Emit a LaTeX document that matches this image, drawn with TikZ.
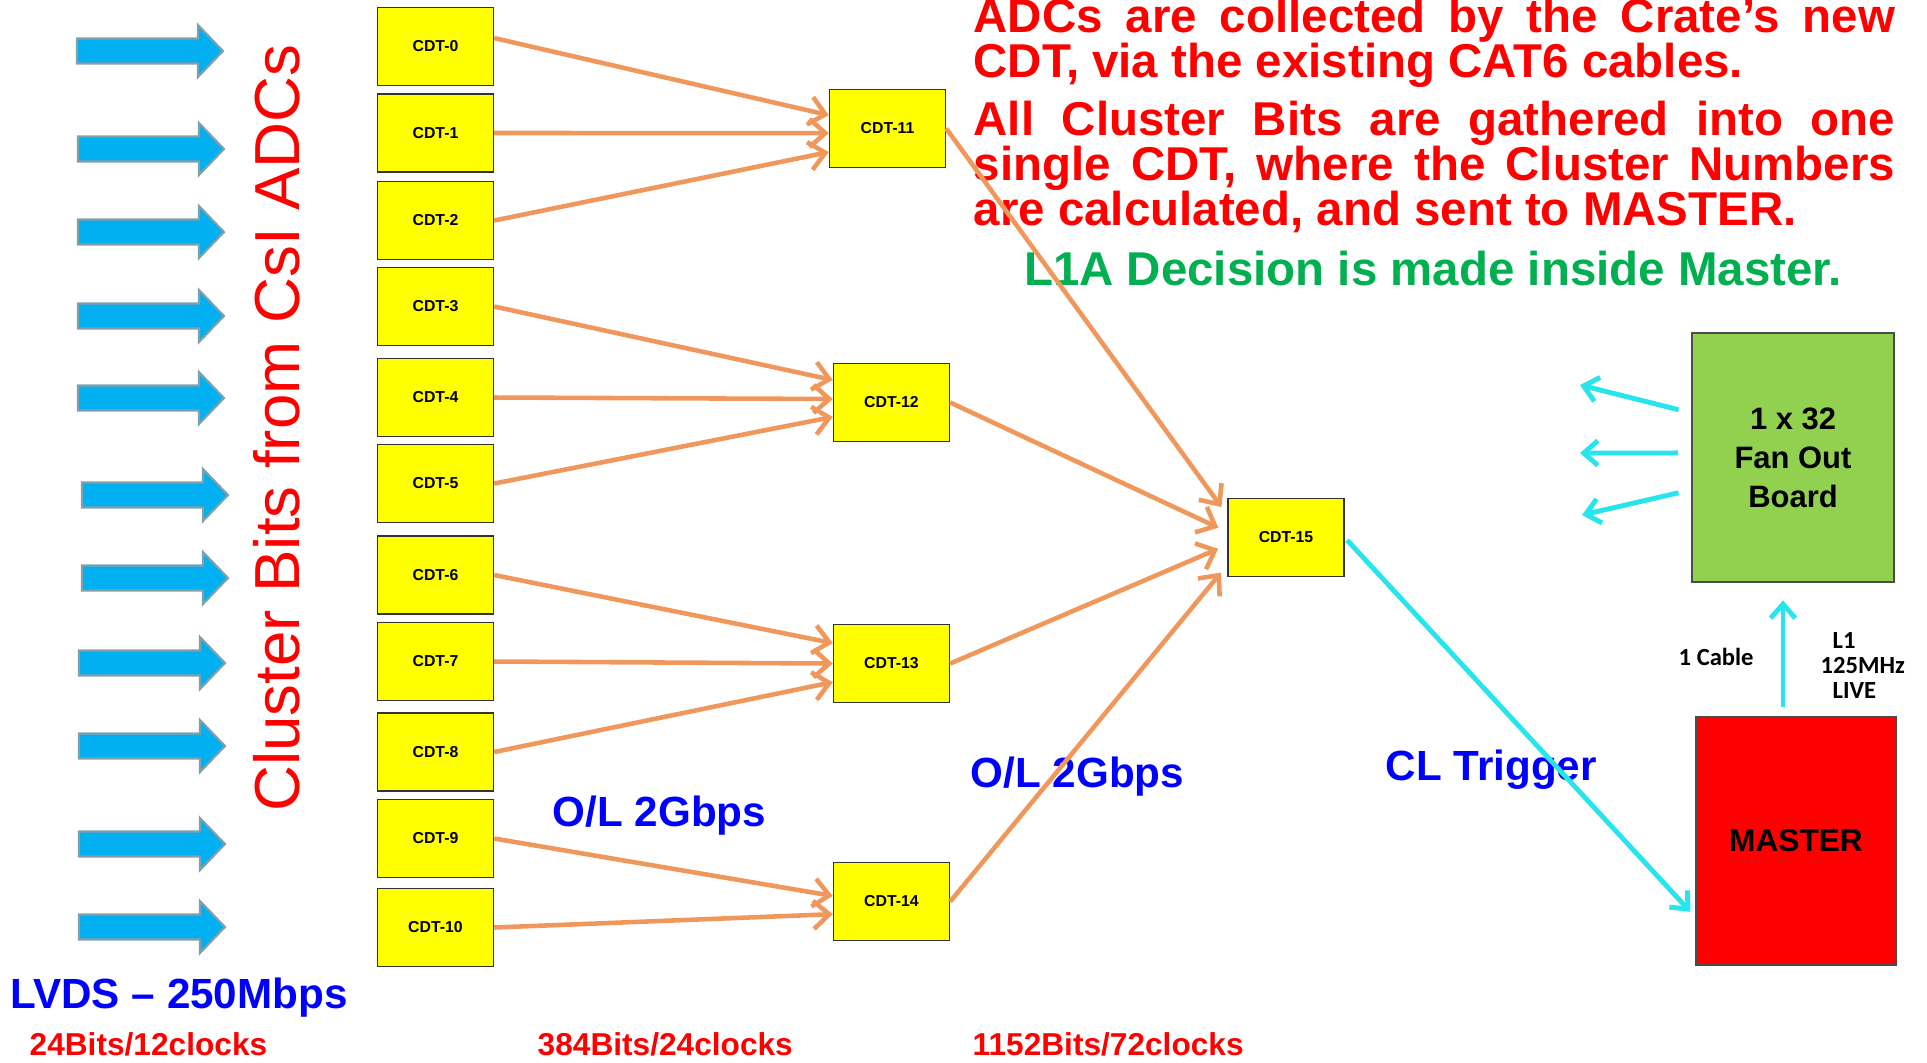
\documentclass[tikz,border=0pt]{standalone}
\usepackage{fontspec}
\setmainfont{Liberation Sans}
\newfontfamily\calibri{Carlito}
\usetikzlibrary{arrows.meta}

\definecolor{cdtyellow}{RGB}{255,255,0}
\definecolor{linkorange}{RGB}{240,152,92}
\definecolor{trigcyan}{RGB}{40,228,236}
\definecolor{fatblue}{RGB}{0,176,240}
\definecolor{fatedge}{RGB}{130,160,170}
\definecolor{fanoutgreen}{RGB}{146,208,80}
\definecolor{notegreen}{RGB}{0,176,80}
\definecolor{notered}{RGB}{255,0,0}
\definecolor{rateblue}{RGB}{0,0,255}

\begin{document}
\begin{tikzpicture}[x=0.01cm, y=-0.01cm,
    cdt/.style={draw=black!80, line width=0.4pt, fill=cdtyellow, minimum width=1.16cm, minimum height=0.78cm, inner sep=0pt, font=\fontsize{4.5}{5}\selectfont\bfseries},
    board/.style={draw=black!70, line width=0.4pt, inner sep=0pt, align=center},
    link/.style={draw=linkorange, line width=1.3pt, -{Straight Barb[length=4.5pt, width=8pt]}},
    sig/.style={draw=trigcyan, line width=1.4pt, -{Straight Barb[length=4pt, width=7pt]}},
    rate/.style={anchor=base west, inner sep=0pt, text=rateblue, font=\fontsize{12}{14}\selectfont\bfseries},
    clocks/.style={anchor=base west, inner sep=0pt, text=notered, font=\fontsize{9}{11}\selectfont\bfseries},
    fatarrow/.pic={\draw[fill=fatblue, draw=fatedge, line width=0.6pt] (0,-12.5) -- (121,-12.5) -- (121,-26) -- (146,0) -- (121,26) -- (121,12.5) -- (0,12.5) -- cycle;}]
    \useasboundingbox (0,0) rectangle (1927,1062);

    % LVDS inputs
    \pic at (77,51) {fatarrow};
    \pic at (78,149) {fatarrow};
    \pic at (78,232) {fatarrow};
    \pic at (78,316) {fatarrow};
    \pic at (78,398) {fatarrow};
    \pic at (82,495) {fatarrow};
    \pic at (82,578) {fatarrow};
    \pic at (79,663) {fatarrow};
    \pic at (79,746) {fatarrow};
    \pic at (79,844) {fatarrow};
    \pic at (79,927) {fatarrow};
    \node[rotate=90, inner sep=0pt, text=notered, font=\fontsize{18.1}{20}\selectfont] (source) at (277,428) {Cluster Bits from CsI ADCs};

    % crate CDTs
    \node[cdt] (cdt0) at (435.5,46.5) {CDT-0};
    \node[cdt] (cdt1) at (435.5,133) {CDT-1};
    \node[cdt] (cdt2) at (435.5,220.5) {CDT-2};
    \node[cdt] (cdt3) at (435.5,306.5) {CDT-3};
    \node[cdt] (cdt4) at (435.5,397.5) {CDT-4};
    \node[cdt] (cdt5) at (435.5,483.5) {CDT-5};
    \node[cdt] (cdt6) at (435.5,575) {CDT-6};
    \node[cdt] (cdt7) at (435.5,661.5) {CDT-7};
    \node[cdt] (cdt8) at (435.5,752) {CDT-8};
    \node[cdt] (cdt9) at (435.5,838.5) {CDT-9};
    \node[cdt] (cdt10) at (435.5,927.5) {CDT-10};

    \node[cdt] (cdt11) at (887.5,128.5) {CDT-11};
    \node[cdt] (cdt12) at (891.5,402.5) {CDT-12};
    \node[cdt] (cdt13) at (891.5,663.5) {CDT-13};
    \node[cdt] (cdt14) at (891.5,901.5) {CDT-14};
    \node[cdt] (cdt15) at (1286,537.5) {CDT-15};

    \node[board, fill=fanoutgreen, minimum width=2.02cm, minimum height=2.49cm, font=\fontsize{8.8}{11.1}\selectfont\bfseries] (fanout) at (1793,457.5) {1 x 32\\Fan Out\\Board};
    \node[board, fill=notered, minimum width=2cm, minimum height=2.48cm, font=\fontsize{9}{11}\selectfont\bfseries] (master) at (1796,841) {MASTER};

    % texts
    \node[anchor=north west, inner sep=0pt, text width=9.21cm, align=justify, text=notered, font=\fontsize{13.5}{12.8}\selectfont\bfseries] (notes) at (973,-3)
        {\lineskiplimit=-20pt\parindent=0pt ADCs are collected by the Crate’s new\linebreak CDT, via the existing CAT6 cables.\\[3.7pt]
        All Cluster Bits are gathered into one\linebreak single CDT, where the Cluster Numbers\linebreak are calculated, and sent to MASTER.};
    \node[anchor=base, inner sep=0pt, text=notegreen, font=\fontsize{13.5}{14}\selectfont\bfseries] (decision) at (1433,285) {L1A Decision is made inside Master.};

    \node[rate] (lvds) at (10,1008) {LVDS – 250Mbps};
    \node[rate] (ol1) at (552,826) {O/L 2Gbps};
    \node[rate] (ol2) at (970,787) {O/L 2Gbps};
    \node[rate] (cltrig) at (1385,780) {CL Trigger};
    \node[clocks] (clk1) at (29,1055) {24Bits/12clocks};
    \node[clocks] (clk2) at (537,1055) {384Bits/24clocks};
    \node[clocks] (clk3) at (972,1055) {1152Bits/72clocks};

    \node[anchor=base west, inner sep=0pt, font=\calibri\bfseries\fontsize{7}{7.1}\selectfont] (cable) at (1678,665) {1 Cable};
    \node[anchor=north west, inner sep=0pt, align=left, font=\calibri\bfseries\fontsize{7}{7.1}\selectfont] (l1live) at (1820,632) {\hspace{3.4pt}L1\\125MHz\\\hspace{3.4pt}LIVE};

    % first stage
    \draw[link] ([yshift=2.4pt]cdt0.east) -- ([yshift=3.8pt]cdt11.west);
    \draw[link] (cdt1.east) -- ([yshift=-1.3pt]cdt11.west);
    \draw[link] (cdt2.east) -- ([yshift=-6.7pt]cdt11.west);
    \draw[link] (cdt3.east) -- ([yshift=6.4pt]cdt12.west);
    \draw[link] (cdt4.east) -- ([yshift=1pt]cdt12.west);
    \draw[link] (cdt5.east) -- ([yshift=-4.1pt]cdt12.west);
    \draw[link] (cdt6.east) -- ([yshift=5.8pt]cdt13.west);
    \draw[link] (cdt7.east) -- (cdt13.west);
    \draw[link] (cdt8.east) -- ([yshift=-5.3pt]cdt13.west);
    \draw[link] (cdt9.east) -- ([yshift=1.6pt]cdt14.west);
    \draw[link] (cdt10.east) -- ([yshift=-3.6pt]cdt14.west);

    % second stage
    \draw[link, shorten >=2.8pt] (cdt11.east) -- ([yshift=6.4pt]cdt15.west);
    \draw[link, shorten >=2.8pt] (cdt12.east) -- ([yshift=1.6pt]cdt15.west);
    \draw[link, shorten >=2.8pt] (cdt13.east) -- ([yshift=-2.1pt]cdt15.west);
    \draw[link, shorten >=2.8pt] (cdt14.east) -- ([yshift=-7.8pt]cdt15.west);

    % trigger path
    \draw[sig, shorten <=1pt, shorten >=2pt] (cdt15.east) -- ([yshift=-21.6pt]master.west);
    \draw[sig, shorten <=2.6pt, shorten >=5pt] ([xshift=-3.7pt]master.north) -- ([xshift=-3.7pt]master.north |- fanout.south);

    \coordinate (fo1) at (1580,385);
    \coordinate (fo2) at (1580,453);
    \coordinate (fo3) at (1582,515);
    \draw[sig, shorten <=3.7pt] ([yshift=12.7pt]fanout.west) -- (fo1);
    \draw[sig, shorten <=3.7pt] ([yshift=1.3pt]fanout.west) -- (fo2);
    \draw[sig, shorten <=3.7pt] ([yshift=-9.2pt]fanout.west) -- (fo3);
\end{tikzpicture}
\end{document}
